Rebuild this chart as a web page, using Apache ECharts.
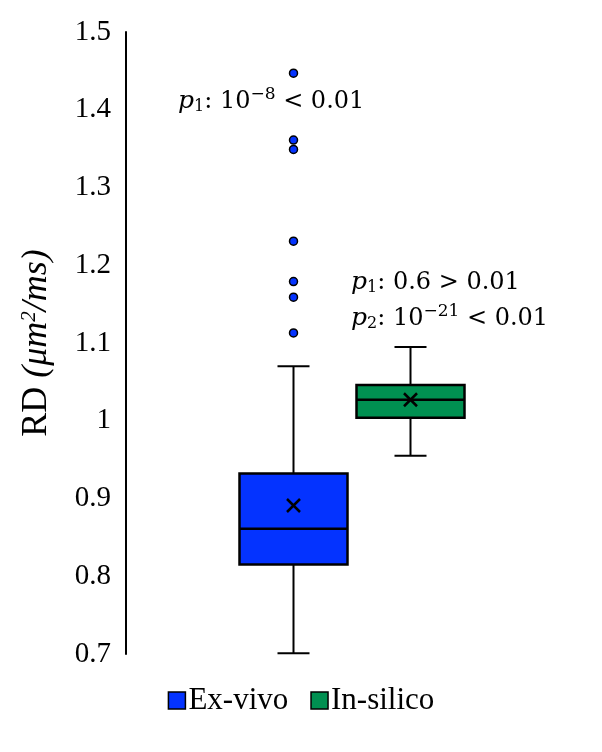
<!DOCTYPE html>
<html>
<head>
<meta charset="utf-8">
<script src="https://cdn.jsdelivr.net/npm/echarts@6/dist/echarts.min.js"></script>
<style>html,body{margin:0;padding:0;background:#fff;}#c{width:602px;height:752px;}</style>
</head>
<body>
<div id="c"></div>
<script>
// ---- data ----
const categories = ['Ex-vivo', 'In-silico'];
// [min, Q1, median, Q3, max, mean]
const exVivoStats = [0.701, 0.815, 0.861, 0.932, 1.070, 0.891];
const inSilicoStats = [0.955, 1.004, 1.027, 1.046, 1.095, 1.027];
const exVivoOutliers = [1.447, 1.361, 1.349, 1.231, 1.179, 1.159, 1.113];
const yTicks = { min: 0.7, max: 1.5, interval: 0.1 };
const colors = { 'Ex-vivo': '#0433FF', 'In-silico': '#009051' };

const chart = echarts.init(document.getElementById('c'));

function renderBox(params, api) {
  const idx = api.value(0);
  const v = k => api.value(k);
  const P = val => api.coord([idx, val]);
  const pMin = P(v(1)), pQ1 = P(v(2)), pMed = P(v(3)), pQ3 = P(v(4)), pMax = P(v(5)), pMean = P(v(6));
  const cx = pMed[0];
  const bw = 108, cap = 32, m = 6.5;
  const ls = { stroke: '#000', lineWidth: 2 };
  const color = api.visual('color');
  return {
    type: 'group',
    children: [
      { type: 'line', shape: { x1: cx, y1: pMin[1], x2: cx, y2: pQ1[1] }, style: ls },
      { type: 'line', shape: { x1: cx, y1: pQ3[1], x2: cx, y2: pMax[1] }, style: ls },
      { type: 'line', shape: { x1: cx - cap / 2, y1: pMin[1], x2: cx + cap / 2, y2: pMin[1] }, style: ls },
      { type: 'line', shape: { x1: cx - cap / 2, y1: pMax[1], x2: cx + cap / 2, y2: pMax[1] }, style: ls },
      { type: 'rect', shape: { x: cx - bw / 2, y: pQ3[1], width: bw, height: pQ1[1] - pQ3[1] },
        style: { fill: color, stroke: '#000', lineWidth: 2.5 } },
      { type: 'line', shape: { x1: cx - bw / 2, y1: pMed[1], x2: cx + bw / 2, y2: pMed[1] }, style: { stroke: '#000', lineWidth: 2.5 } },
      { type: 'line', shape: { x1: cx - m, y1: pMean[1] - m, x2: cx + m, y2: pMean[1] + m }, style: { stroke: '#000', lineWidth: 2.5 } },
      { type: 'line', shape: { x1: cx - m, y1: pMean[1] + m, x2: cx + m, y2: pMean[1] - m }, style: { stroke: '#000', lineWidth: 2.5 } }
    ]
  };
}

const serif = 'Liberation Serif';
const math = 'DejaVu Serif';
const richBase = {
  i: { fontFamily: math, fontStyle: 'italic', fontSize: 25, color: '#000' },
  s: { fontFamily: math, fontSize: 16, color: '#000', padding: [11, 0, 0, 0] },
  n: { fontFamily: math, fontSize: 24, color: '#000' },
  u: { fontFamily: math, fontSize: 17, color: '#000', padding: [0, 0, 14, 0] }
};

chart.setOption({
  animation: false,
  grid: { left: 235, width: 234, top: 32, bottom: 98 },
  xAxis: {
    type: 'category', data: categories, show: false
  },
  yAxis: {
    type: 'value', min: yTicks.min, max: yTicks.max, interval: yTicks.interval,
    offset: 109,
    axisLine: { show: true, lineStyle: { color: '#000', width: 2 } },
    axisTick: { show: false },
    splitLine: { show: false },
    axisLabel: { color: '#000', fontFamily: serif, fontSize: 29, margin: 15 },
    name: '{r|RD }{i|(μm}{u|2}{i|/ms)}',
    nameLocation: 'middle', nameRotate: 90, nameGap: 71,
    nameTextStyle: {
      rich: {
        r: { fontFamily: serif, fontSize: 36, color: '#000' },
        i: { fontFamily: serif, fontStyle: 'italic', fontSize: 36, color: '#000' },
        u: { fontFamily: serif, fontStyle: 'italic', fontSize: 21, color: '#000', padding: [0, 0, 15, 0] }
      }
    }
  },
  legend: {
    bottom: 31, left: 'center',
    itemWidth: 17, itemHeight: 17, itemGap: 22,
    textStyle: { fontFamily: serif, fontSize: 31, color: '#000', padding: [0, 0, 0, -2] },
    data: categories.map(n => ({ name: n, icon: 'rect', itemStyle: { color: colors[n], borderColor: '#000', borderWidth: 1.5 } }))
  },
  series: [
    {
      name: 'Ex-vivo', type: 'custom', renderItem: renderBox,
      itemStyle: { color: colors['Ex-vivo'] },
      encode: { x: 0, y: [1, 2, 3, 4, 5, 6] },
      data: [[0].concat(exVivoStats)]
    },
    {
      name: 'In-silico', type: 'custom', renderItem: renderBox,
      itemStyle: { color: colors['In-silico'] },
      encode: { x: 0, y: [1, 2, 3, 4, 5, 6] },
      data: [[1].concat(inSilicoStats)]
    },
    {
      name: 'outliers', type: 'scatter', symbol: 'circle', symbolSize: 8,
      itemStyle: { color: colors['Ex-vivo'], borderColor: '#000', borderWidth: 1.5, opacity: 1 },
      data: exVivoOutliers.map(v => [0, v])
    }
  ],
  graphic: [
    { type: 'text', left: 178, top: 86, style: { text: '{i|p}{s|1}{n|: 10}{u|−8}{n| < 0.01}', rich: richBase } },
    { type: 'text', left: 351, top: 270, style: { text: '{i|p}{s|1}{n|: 0.6 > 0.01}', rich: richBase } },
    { type: 'text', left: 351, top: 303, style: { text: '{i|p}{s|2}{n|: 10}{u|−21}{n| < 0.01}', rich: richBase } }
  ]
});
</script>
</body>
</html>
